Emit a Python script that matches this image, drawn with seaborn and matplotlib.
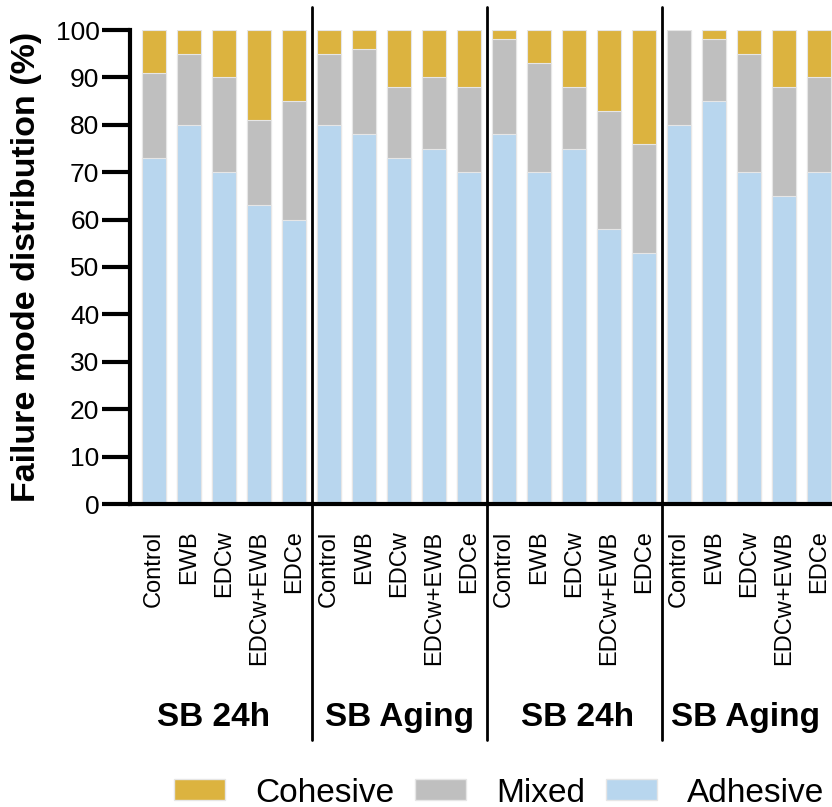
import numpy as np
import pandas as pd
import matplotlib
matplotlib.use("Agg")
import matplotlib.pyplot as plt
import matplotlib.transforms as mtransforms
from matplotlib.patches import Patch
import seaborn as sns

# data (percent)
treatments = ["Control", "EWB", "EDCw", "EDCw+EWB", "EDCe"]
groups = ["SB 24h", "SB Aging", "SB 24h", "SB Aging"]

adhesive = [73, 80, 70, 63, 60,
            80, 78, 73, 75, 70,
            78, 70, 75, 58, 53,
            80, 85, 70, 65, 70]
mixed = [18, 15, 20, 18, 25,
         15, 18, 15, 15, 18,
         20, 23, 13, 25, 23,
         20, 13, 25, 23, 20]
cohesive = [9, 5, 10, 19, 15,
            5, 4, 12, 10, 12,
            2, 7, 12, 17, 24,
            0, 2, 5, 12, 10]

colors = {"Cohesive": "#DCB33F", "Mixed": "#BFBFBF", "Adhesive": "#B8D6EE"}

sns.set_style("ticks", {"axes.edgecolor": "black", "text.color": "black",
                        "xtick.color": "black", "ytick.color": "black",
                        "axes.labelcolor": "black"})
plt.rcParams["font.family"] = ["Liberation Sans", "DejaVu Sans"]

df = pd.DataFrame({
    "bar": [f"{g}-{t}-{i}" for i, (g, t) in enumerate(
        [(g, t) for g in range(len(groups)) for t in treatments])],
    "label": treatments * len(groups),
    "Adhesive": adhesive,
    "Mixed": mixed,
    "Cohesive": cohesive,
})
df["top_mixed"] = df["Adhesive"] + df["Mixed"]
df["top_cohesive"] = df["top_mixed"] + df["Cohesive"]

fig = plt.figure(figsize=(8.32, 8.07), dpi=100)
ax = fig.add_axes([130 / 832, 1 - 504 / 807, (832 - 130) / 832, 474 / 807])

# stacked bars: draw the tallest layer first
order = list(df["bar"])
for col, name in [("top_cohesive", "Cohesive"), ("top_mixed", "Mixed"), ("Adhesive", "Adhesive")]:
    sns.barplot(data=df, x="bar", y=col, order=order, color=colors[name],
                width=0.67, saturation=1, ax=ax, linewidth=0.8,
                edgecolor="#e6e6e6")

ax.set_ylim(0, 100)
ax.set_xlim(-0.686, 19.37)
ax.set_yticks(np.arange(0, 101, 10))
ax.set_xticks(range(len(df)))
ax.set_xticklabels(df["label"], rotation=90, fontsize=17)
ax.tick_params(axis="x", length=0, pad=19)
ax.tick_params(axis="y", length=20, width=3, labelsize=19, pad=2)
ax.set_xlabel("")
ax.set_ylabel("Failure mode distribution (%)", fontsize=24.5, fontweight="bold", va="center")
ax.yaxis.set_label_coords(-0.147, 0.5)

for side in ["top", "right"]:
    ax.spines[side].set_visible(False)
ax.spines["left"].set_linewidth(3)
ax.spines["bottom"].set_linewidth(3)

# group separators and group names
trans = mtransforms.blended_transform_factory(ax.transData, ax.transAxes)
for sep in [4.5, 9.5, 14.5]:
    ax.plot([sep, sep], [-0.498, 1.0485], color="black", lw=2,
            transform=trans, clip_on=False)

group_pos = [1.7, 7.0, 12.1, 16.9]
for g, xpos in zip(groups, group_pos):
    ax.text(xpos, -0.451, g, transform=trans, ha="center", va="center",
            fontsize=24, fontweight="bold")

handles = [Patch(facecolor=colors[n], edgecolor="#e6e6e6", label=n)
           for n in ["Cohesive", "Mixed", "Adhesive"]]
fig.legend(handles=handles, loc="center", bbox_to_anchor=(0.6, 0.0173), ncol=3,
           frameon=False, fontsize=24, handlelength=1.53, handleheight=0.6,
           handletextpad=0.9, columnspacing=0.63, borderpad=0, borderaxespad=0)

fig.savefig("out.png", dpi=100)
